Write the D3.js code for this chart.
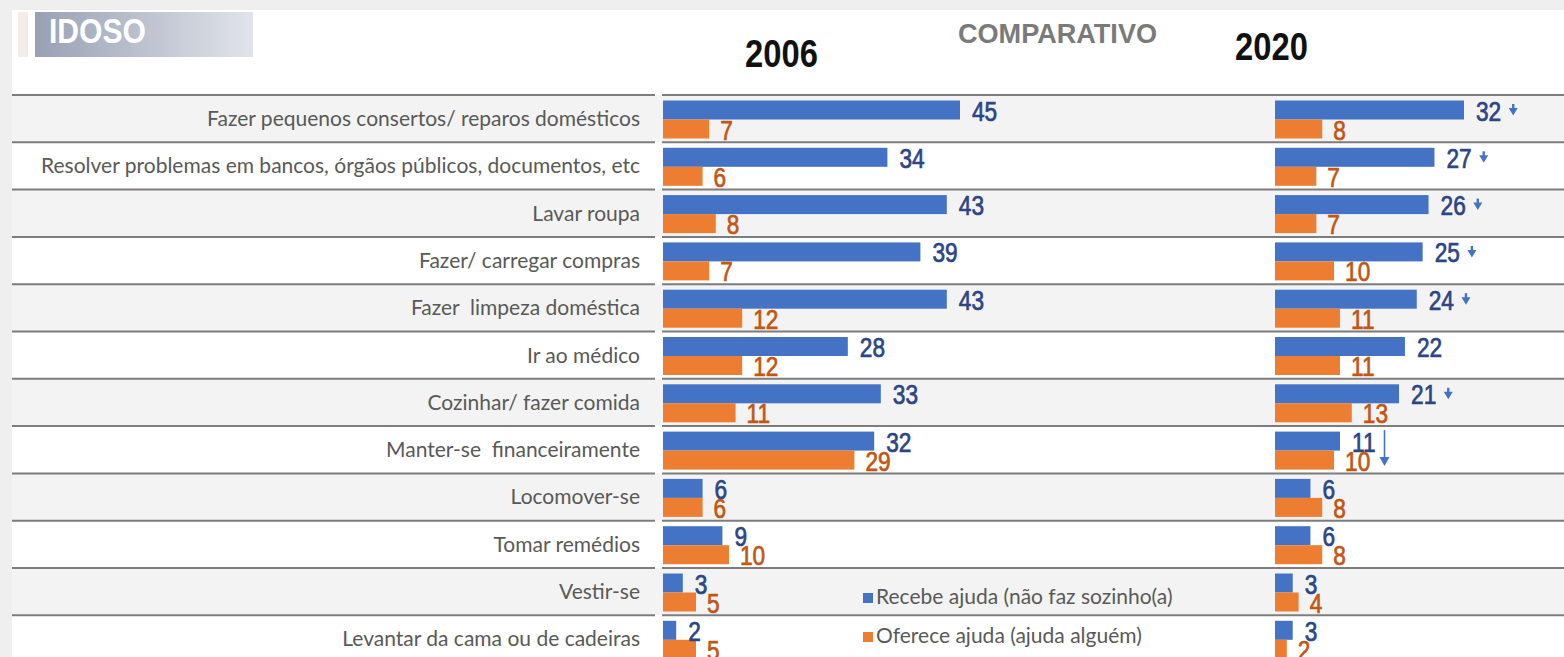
<!DOCTYPE html>
<html>
<head>
<meta charset="utf-8">
<script src="https://cdn.jsdelivr.net/npm/d3@7"></script>
<style>
  body { margin: 0; background: #efefef; }
  svg { display: block; }
  .cat { font-family: Lato, "Open Sans", sans-serif; font-size: 21px; fill: #595959; white-space: pre; }
  .val { font-family: "Liberation Sans", Arial, sans-serif; font-size: 27px; stroke-width: 0.7px; }
  .year { font-family: "Liberation Sans", Arial, sans-serif; font-weight: bold; font-size: 39px; fill: #111; }
</style>
</head>
<body>
<div id="chart"></div>
<script>
let categories = [
    "Fazer pequenos consertos/ reparos domésticos",
    "Resolver problemas em bancos, órgãos públicos, documentos, etc",
    "Lavar roupa",
    "Fazer/ carregar compras",
    "Fazer  limpeza doméstica",
    "Ir ao médico",
    "Cozinhar/ fazer comida",
    "Manter-se  financeiramente",
    "Locomover-se",
    "Tomar remédios",
    "Vestir-se",
    "Levantar da cama ou de cadeiras"
];
let recebe2006  = [45, 34, 43, 39, 43, 28, 33, 32, 6, 9, 3, 2];
let oferece2006 = [7, 6, 8, 7, 12, 12, 11, 29, 6, 10, 5, 5];
let recebe2020  = [32, 27, 26, 25, 24, 22, 21, 11, 6, 6, 3, 3];
let oferece2020 = [8, 7, 7, 10, 11, 11, 13, 10, 8, 8, 4, 2];
// queda marcada com seta no recebe 2020
let queda2020 = ["curta", "curta", "curta", "curta", "curta", "", "curta", "longa", "", "", "", ""];
let seriesNames = ["Recebe ajuda (não faz sozinho(a)", "Oferece ajuda (ajuda alguém)"];

let W = 1564, H = 657;
let blue = "#4472c4", orange = "#ed7d31";
let blueText = "#2b4585", orangeText = "#c25612";
let narrow = 0.84; // fonte condensada simulada

let svg = d3.select("#chart")
    .append("svg")
    .attr("width", W)
    .attr("height", H);

// fundo / painel
svg.append("rect").attr("width", W).attr("height", H).attr("fill", "#efefef");
svg.append("rect").attr("x", 12).attr("y", 10).attr("width", W - 12).attr("height", H - 10).attr("fill", "#fff");

// cabecalho IDOSO
let grad = svg.append("defs").append("linearGradient").attr("id", "gIdoso");
grad.append("stop").attr("offset", "0%").attr("stop-color", "#98a1b4");
grad.append("stop").attr("offset", "100%").attr("stop-color", "#e1e4ea");
svg.append("rect").attr("x", 18).attr("y", 12).attr("width", 10).attr("height", 45).attr("fill", "#f4ece6");
svg.append("rect").attr("x", 35).attr("y", 12).attr("width", 218).attr("height", 45).attr("fill", "url(#gIdoso)");
svg.append("text")
    .attr("transform", "translate(49,43) scale(0.86,1)")
    .attr("fill", "#fff")
    .style("font-family", "'Liberation Sans', Arial, sans-serif")
    .style("font-weight", "bold")
    .style("font-size", "35px")
    .text("IDOSO");

svg.append("text").attr("class", "year")
    .attr("transform", `translate(745,67) scale(${narrow},1)`).text("2006");
svg.append("text").attr("class", "year")
    .attr("transform", `translate(1235,60) scale(${narrow},1)`).text("2020");
svg.append("text")
    .attr("x", 958).attr("y", 43)
    .attr("fill", "#7a7a7a")
    .style("font-family", "'Liberation Sans', Arial, sans-serif")
    .style("font-weight", "bold")
    .style("font-size", "27px")
    .attr("textLength", 199)
    .attr("lengthAdjust", "spacingAndGlyphs")
    .text("COMPARATIVO");

// escalas
let y = d3.scaleBand()
    .domain(categories)
    .range([95, 95 + 47.3 * categories.length]);

let inner = d3.scaleBand()
    .domain(["recebe", "oferece"])
    .range([5.5, 43.5]);

let x2006 = d3.scaleLinear().domain([0, 45]).range([663, 960]);
let x2020 = d3.scaleLinear().domain([0, 32]).range([1275, 1464]);

// faixas das linhas
categories.forEach((c, i) => {
    if (i % 2 == 0) {
        svg.append("rect")
            .attr("x", 12).attr("y", y(c))
            .attr("width", W - 12).attr("height", y.bandwidth())
            .attr("fill", "#f3f3f3");
    }
});
categories.forEach(c => {
    svg.append("line")
        .attr("x1", 12).attr("x2", 655)
        .attr("y1", y(c)).attr("y2", y(c))
        .attr("stroke", "#7d7d7d").attr("stroke-width", 2);
    svg.append("line")
        .attr("x1", 662).attr("x2", W)
        .attr("y1", y(c)).attr("y2", y(c))
        .attr("stroke", "#7d7d7d").attr("stroke-width", 2);
});

// rotulos das categorias
svg.selectAll(".cat")
    .data(categories)
    .enter()
    .append("text")
    .attr("class", "cat")
    .attr("x", 640)
    .attr("y", d => y(d) + 31)
    .attr("text-anchor", "end")
    .text(d => d);

function drawPanel(x, rec, ofe, arrows) {
    let g = svg.append("g");
    g.selectAll(".rec")
        .data(rec)
        .enter()
        .append("rect")
        .attr("x", x(0))
        .attr("y", (d, i) => y(categories[i]) + inner("recebe"))
        .attr("width", d => x(d) - x(0))
        .attr("height", inner.bandwidth())
        .attr("fill", blue);
    g.selectAll(".ofe")
        .data(ofe)
        .enter()
        .append("rect")
        .attr("x", x(0))
        .attr("y", (d, i) => y(categories[i]) + inner("oferece"))
        .attr("width", d => x(d) - x(0))
        .attr("height", inner.bandwidth())
        .attr("fill", orange);

    let recLabels = g.selectAll(".recLbl")
        .data(rec)
        .enter()
        .append("text")
        .attr("class", "val")
        .attr("transform", (d, i) => `translate(${x(d) + 12},${y(categories[i]) + 25.5}) scale(${narrow},1)`)
        .attr("fill", blueText)
        .attr("stroke", blueText)
        .text(d => d);

    g.selectAll(".ofeLbl")
        .data(ofe)
        .enter()
        .append("text")
        .attr("class", "val")
        .attr("transform", (d, i) => `translate(${x(d) + 11},${y(categories[i]) + 44.5}) scale(${narrow},1)`)
        .attr("fill", orangeText)
        .attr("stroke", orangeText)
        .text(d => d);

    if (!arrows) return;
    recLabels.each(function (d, i) {
        let kind = arrows[i];
        if (!kind) return;
        let top = y(categories[i]);
        let ax = x(d) + 12 + this.getComputedTextLength() * narrow;
        if (kind == "curta") {
            ax += 12;
            g.append("line")
                .attr("x1", ax).attr("x2", ax)
                .attr("y1", top + 9).attr("y2", top + 15)
                .attr("stroke", blue).attr("stroke-width", 2.4);
            g.append("path")
                .attr("d", `M${ax - 4.5},${top + 13}L${ax + 4.5},${top + 13}L${ax},${top + 20.5}Z`)
                .attr("fill", blue);
        } else {
            ax += 9;
            g.append("line")
                .attr("x1", ax).attr("x2", ax)
                .attr("y1", top + 4).attr("y2", top + 34)
                .attr("stroke", blue).attr("stroke-width", 1.6);
            g.append("path")
                .attr("d", `M${ax - 5},${top + 31}L${ax + 5},${top + 31}L${ax},${top + 40}Z`)
                .attr("fill", blue);
        }
    });
}

drawPanel(x2006, recebe2006, oferece2006, null);
drawPanel(x2020, recebe2020, oferece2020, queda2020);

// legenda
let legend = svg.append("g");
[blue, orange].forEach((col, i) => {
    legend.append("rect")
        .attr("x", 863).attr("y", 593 + i * 39)
        .attr("width", 10).attr("height", 10)
        .attr("fill", col);
    legend.append("text")
        .attr("class", "cat")
        .attr("x", 876).attr("y", 604 + i * 39)
        .text(seriesNames[i]);
});
</script>
</body>
</html>
